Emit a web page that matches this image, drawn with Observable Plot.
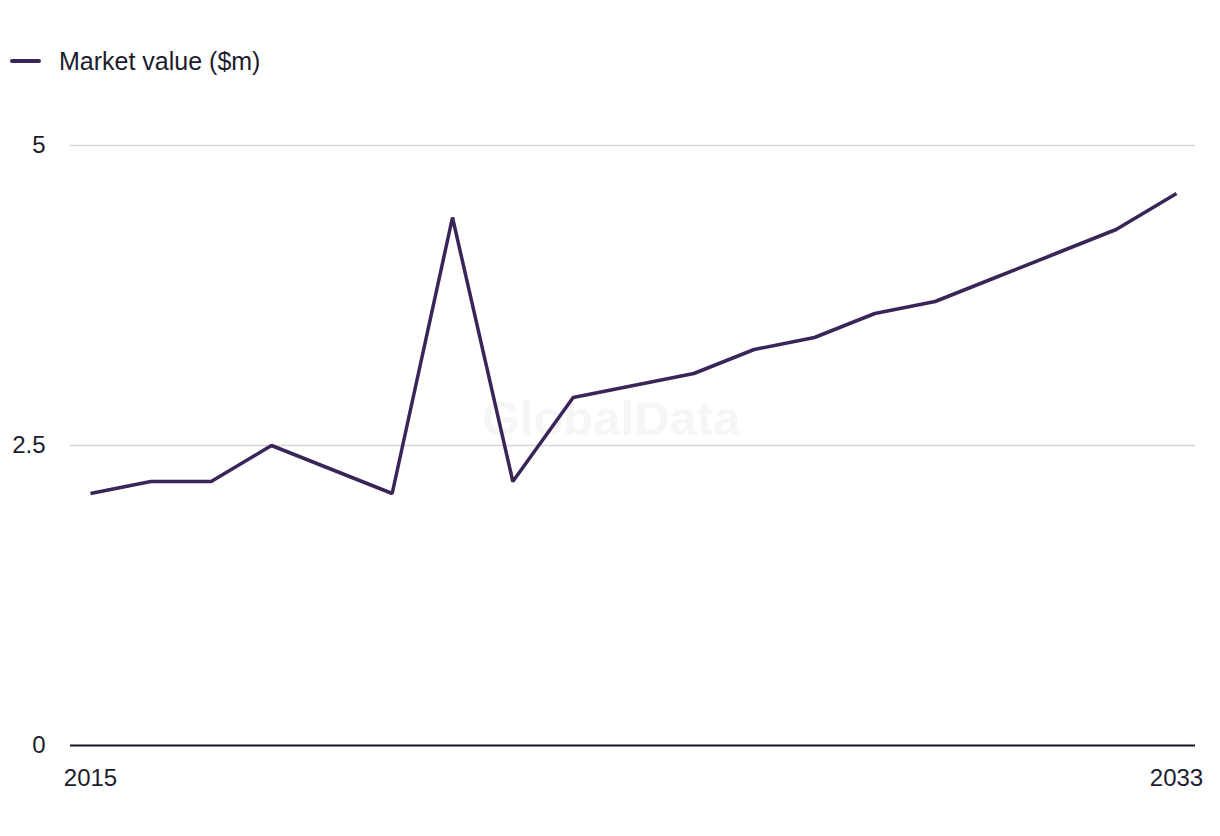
<!DOCTYPE html>
<html>
<head>
<meta charset="utf-8">
<script src="https://cdn.jsdelivr.net/npm/d3@7"></script>
<script src="https://cdn.jsdelivr.net/npm/@observablehq/plot@0.6"></script>
<style>
  html, body { margin: 0; padding: 0; background: #fff; }
  body { width: 1220px; height: 836px; overflow: hidden; font-family: "Liberation Sans", Arial, sans-serif; color: #1c1c2e; }
  #legend { position: relative; height: 100px; }
  #legend .swatch { position: absolute; left: 10px; top: 59px; width: 31px; height: 4px; background: #3a2558; border-radius: 2px; }
  #legend .label { position: absolute; left: 59px; top: 46px; font-size: 25px; line-height: 30px; color: #1c1c2e; }
  svg { display: block; }
</style>
</head>
<body>
<div id="legend"><div class="swatch"></div><div class="label">Market value ($m)</div></div>
<div id="chart"></div>
<script>
const years = [2015, 2016, 2017, 2018, 2019, 2020, 2021, 2022, 2023, 2024, 2025, 2026, 2027, 2028, 2029, 2030, 2031, 2032, 2033];
const marketValue = [2.1, 2.2, 2.2, 2.5, 2.3, 2.1, 4.4, 2.2, 2.9, 3.0, 3.1, 3.3, 3.4, 3.6, 3.7, 3.9, 4.1, 4.3, 4.6];
const yTicks = [0, 2.5, 5];
const xTicks = [2015, 2033];
const seriesName = "Market value ($m)";
const watermark = "GlobalData";

const data = years.map((y, i) => ({year: y, value: marketValue[i], series: seriesName}));

const chart = Plot.plot({
  width: 1220,
  height: 736,
  marginLeft: 70,
  marginRight: 25,
  marginTop: 45,
  marginBottom: 91,
  insetLeft: 20,
  insetRight: 19,
  style: {fontFamily: "'Liberation Sans', Arial, sans-serif", fontSize: "24px", color: "#1c1c2e", background: "#fff"},
  x: {domain: [2015, 2033], ticks: xTicks, tickFormat: d => String(d), label: null, tickSize: 0, tickPadding: 23},
  y: {domain: [0, 5], ticks: yTicks, tickFormat: d => String(d), label: null, tickSize: 0, tickPadding: 25},
  marks: [
    Plot.ruleY(yTicks.filter(d => d !== 0), {stroke: "#d6d6d6", strokeWidth: 1.5}),
    Plot.text([watermark], {frameAnchor: "middle", dx: -22, dy: -26, text: d => d, fontSize: 49, fontWeight: "bold", fill: "#f6f6f6"}),
    Plot.ruleY([0], {stroke: "#14142a", strokeWidth: 2}),
    Plot.line(data, {x: "year", y: "value", stroke: "#3a2558", strokeWidth: 3.5, strokeLinejoin: "miter", strokeLinecap: "butt"})
  ]
});
document.getElementById("chart").appendChild(chart);
</script>
</body>
</html>
